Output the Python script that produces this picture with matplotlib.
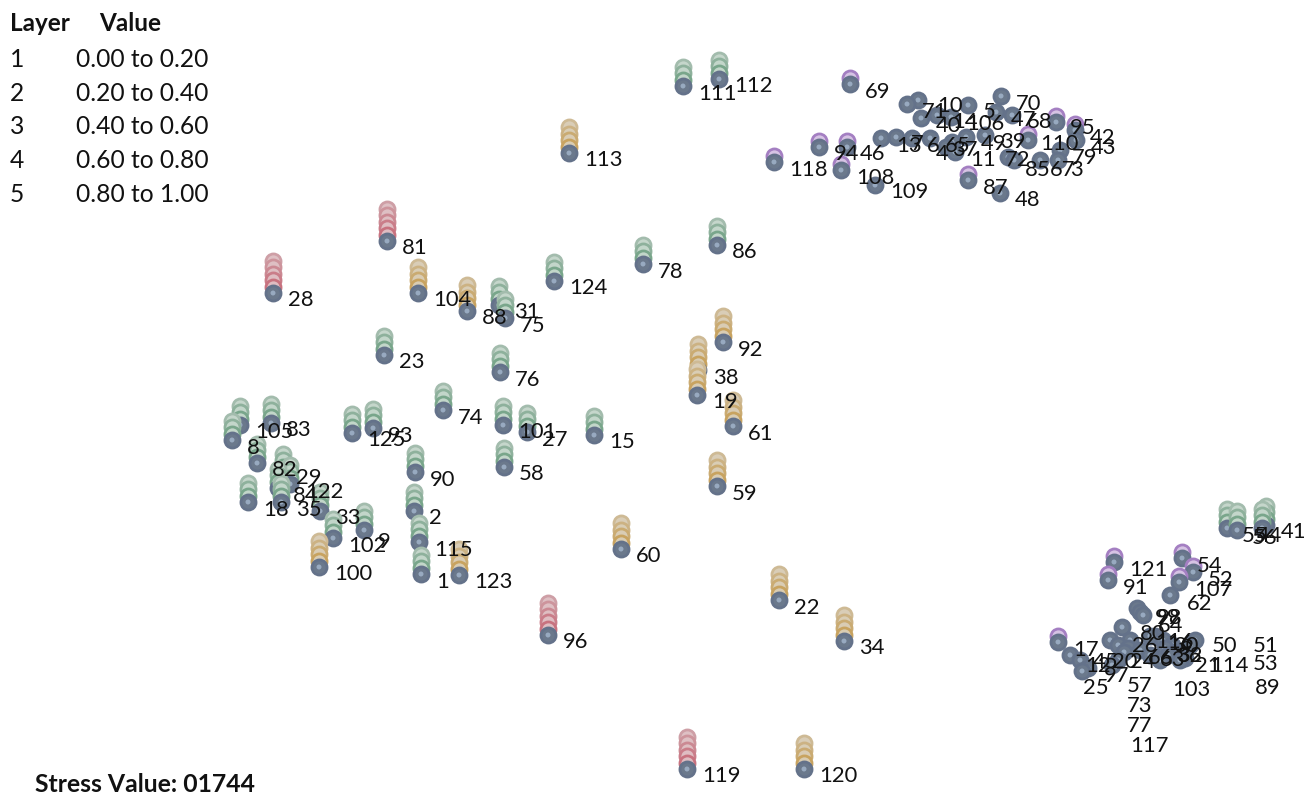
import numpy as np
import matplotlib.pyplot as plt
from matplotlib.colors import to_rgb

# node ids, position on the map (pixel-like units) and value layer (0 = none)
ids = [1, 2, 8, 9, 15, 18, 19, 22, 23, 27, 28, 29, 31, 33, 34, 35, 38, 58, 59, 60,
       61, 74, 75, 76, 78, 81, 82, 83, 84, 86, 88, 90, 92, 93, 96, 100, 101, 102, 104, 105,
       111, 112, 113, 115, 119, 120, 122, 123, 124, 125,
       69, 118, 94, 46, 108, 109, 13, 7, 6, 71, 10, 40, 14, 106, 5, 70, 47, 68, 65, 4,
       37, 49, 39, 11, 72, 85, 67, 3, 110, 79, 95, 42, 43, 87, 48,
       55, 56, 44, 41, 121, 91, 54, 52, 107, 62, 99, 64, 80, 26, 116, 30, 50, 51, 17, 45,
       12, 20, 24, 66, 63, 32, 36, 21, 114, 53, 97, 25, 57, 103, 89, 73, 77, 117, 98, 16]
xs = [421, 414, 232, 364, 594, 248, 697, 779, 384, 527, 273, 283, 499, 320, 844, 281, 698, 504, 717, 621,
      733, 443, 505, 500, 643, 387, 257, 271, 278, 717, 467, 415, 723, 373, 548, 319, 503, 333, 418, 240,
      683, 719, 569, 419, 687, 804, 290, 459, 554, 352,
      850, 774, 819, 847, 841, 875, 881, 896, 912, 907, 918, 921, 937, 951, 968, 1001, 996, 1012, 930, 946,
      952, 966, 985, 955, 1008, 1014, 1040, 1058, 1028, 1060, 1056, 1075, 1076, 968, 1000,
      1227, 1237, 1262, 1266, 1114, 1108, 1182, 1193, 1179, 1170, 1137, 1143, 1122, 1130, 1150, 1163, 1195, 1190, 1058, 1070,
      1080, 1110, 1118, 1140, 1150, 1165, 1172, 1185, 1180, 1175, 1088, 1082, 1112, 1160, 1168, 1118, 1124, 1128, 1140, 1155]
ys = [574, 511, 440, 530, 435, 502, 395, 600, 355, 432, 293, 473, 305, 511, 641, 502, 370, 467, 486, 549,
      426, 410, 318, 372, 264, 241, 463, 423, 488, 245, 311, 472, 342, 428, 635, 567, 425, 538, 293, 425,
      86, 79, 153, 542, 769, 769, 484, 575, 281, 433,
      84, 162, 147, 147, 170, 185, 138, 137, 138, 104, 100, 118, 115, 117, 105, 96, 112, 115, 138, 147,
      142, 137, 135, 152, 157, 160, 160, 160, 140, 150, 122, 130, 140, 180, 193,
      528, 530, 528, 525, 562, 580, 558, 572, 582, 595, 608, 615, 627, 640, 636, 640, 640, 645, 642, 655,
      660, 640, 645, 650, 655, 648, 645, 658, 660, 652, 668, 671, 665, 660, 655, 660, 652, 648, 612, 636]
layers = [3, 3, 3, 3, 3, 3, 4, 4, 3, 3, 5, 3, 3, 3, 4, 3, 4, 3, 4, 4,
          4, 3, 3, 3, 3, 5, 3, 3, 3, 3, 4, 3, 4, 3, 5, 4, 3, 3, 4, 3,
          3, 3, 4, 3, 5, 4, 3, 4, 3, 3,
          1, 1, 1, 1, 1, 0, 0, 0, 0, 0, 0, 0, 0, 0, 0, 0, 0, 0, 0, 0,
          0, 0, 0, 0, 0, 0, 0, 0, 1, 0, 1, 1, 0, 1, 0,
          3, 3, 3, 3, 1, 1, 1, 1, 1, 0, 0, 0, 0, 0, 0, 0, 0, 0, 1, 0,
          0, 0, 0, 0, 0, 0, 0, 0, 0, 0, 0, 0, 0, 0, 0, 0, 0, 0, 0, 0]

legend_layers = ['1', '2', '3', '4', '5']
legend_values = ['0.00 to 0.20', '0.20 to 0.40', '0.40 to 0.60', '0.60 to 0.80', '0.80 to 1.00']
stress = '01744'

# labels moved off their default spot (dx, dy from the node)
label_shift = {
    9: (14, 11), 29: (13, 4), 46: (13, 6), 10: (19, 4), 4: (-10, 6), 37: (0, 6),
    72: (-3, 1), 85: (11, 8), 67: (10, 8), 3: (12, 8), 110: (12, 3), 79: (12, 6),
    95: (14, 5), 44: (-5, 7), 62: (17, 7), 99: (18, 9), 64: (15, 10), 80: (18, 6),
    26: (2, 5), 116: (5, 5), 30: (10, 5), 50: (17, 5), 51: (63, -1),
    45: (23, 6), 12: (5, 4), 20: (2, 21), 24: (12, 16), 66: (8, 7), 63: (10, 4),
    32: (12, 6), 36: (4, 10), 21: (10, 7), 114: (30, 5), 53: (78, 11), 97: (16, 7),
    25: (1, 16), 57: (15, 19), 103: (12, 28), 89: (87, 32), 73: (9, 45), 77: (3, 72),
    117: (2, 96), 98: (17, 5), 16: (12, 7),
}

# (ring, face) colours for each value layer
palette = {
    1: ('#a47fc2', '#d6c3e4'),
    2: ('#7896c2', '#c8d4e6'),
    3: ('#79a68b', '#c2d6c9'),
    4: ('#c8a360', '#d9ccb2'),
    5: ('#c8727f', '#dfbcc1'),
}


def fade(c, t):
    r, g, b = to_rgb(c)
    return (r + (0.84 - r) * t, g + (0.84 - g) * t, b + (0.84 - b) * t)


plt.rcParams['font.family'] = ['Lato', 'DejaVu Sans']

fig = plt.figure(figsize=(13.07, 7.95), dpi=100)
ax = fig.add_axes([0, 0, 1, 1])
ax.set_xlim(0, 1307)
ax.set_ylim(795, 0)
ax.axis('off')

step = 6.5
order = np.argsort(ys)
for n, i in enumerate(order):
    x, y, L = xs[i], ys[i], layers[i]
    z = 2 + n * 0.01
    if L > 0:
        ring, face = palette[L]
        for k in range(L, 0, -1):
            t = 0.45 * (k - 1) / max(L - 1, 1)
            ax.scatter(x, y - k * step, s=118, facecolor=fade(face, t * 0.3),
                       edgecolor=fade(ring, t), linewidths=2.0, zorder=z)
    ax.scatter(x, y, s=118, facecolor='#6b798c', edgecolor='#64728a',
               linewidths=2.0, zorder=z + 0.001)
    ax.scatter(x, y, s=13, facecolor='#98aac0', edgecolor='none', zorder=z + 0.002)

for i, name in enumerate(ids):
    dx, dy = label_shift.get(name, (15, 6))
    ax.text(xs[i] + dx, ys[i] + dy + 7.5, str(name), fontsize=15.8, color='#111111',
            ha='left', va='baseline', zorder=10)

# value-layer key in the top left corner
ax.text(10, 31, 'Layer', fontsize=17.5, fontweight='bold', color='#111111', va='baseline')
ax.text(99, 31, 'Value', fontsize=17.5, fontweight='bold', color='#111111', va='baseline')
for r, (lay, val) in enumerate(zip(legend_layers, legend_values)):
    yb = 67 + r * 33.7
    ax.text(10, yb, lay, fontsize=17.7, color='#111111', va='baseline')
    ax.text(76, yb, val, fontsize=17.7, color='#111111', va='baseline')

ax.text(35, 792, 'Stress Value: ' + stress, fontsize=17.8, fontweight='bold',
        color='#111111', va='baseline')

fig.savefig('out.png', dpi=100)
